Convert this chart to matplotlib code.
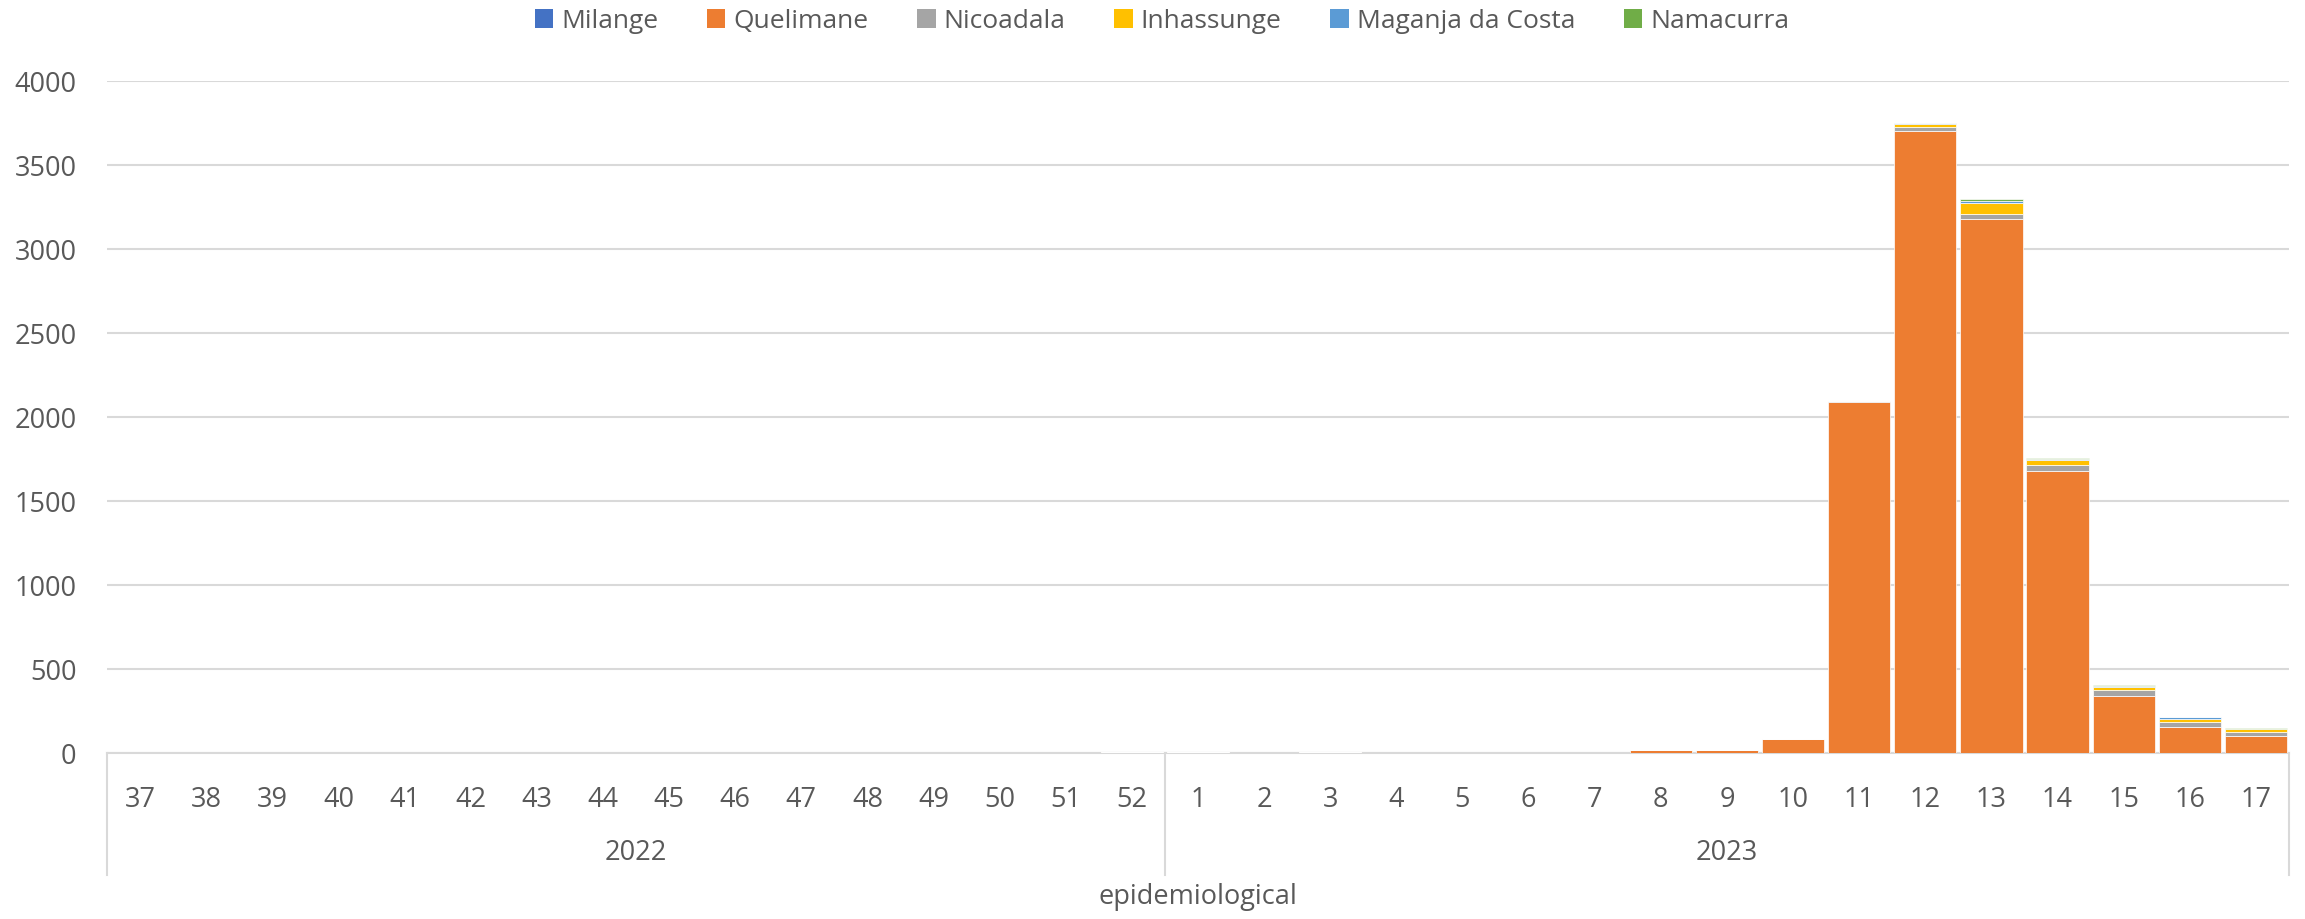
"""Weekly cases by district, stacked by epidemiological week."""

import matplotlib
matplotlib.use("Agg")
import matplotlib.pyplot as plt
import numpy as np
from matplotlib.patches import Patch
from matplotlib.transforms import blended_transform_factory

plt.rcParams["font.family"] = ["Open Sans", "DejaVu Sans"]

weeks_2022 = [str(w) for w in range(37, 53)]
weeks_2023 = [str(w) for w in range(1, 18)]
weeks = weeks_2022 + weeks_2023
years = ["2022", "2023"]

districts = ["Milange", "Quelimane", "Nicoadala", "Inhassunge", "Maganja da Costa", "Namacurra"]
colors = ["#4472C4", "#ED7D31", "#A5A5A5", "#FFC000", "#5B9BD5", "#70AD47"]

#              37..52 (2022)                                     | 1..17 (2023)
milange =     [0, 0, 0, 0, 0, 0, 0, 0, 0, 0, 0, 0, 0, 0, 0, 0] + [0, 0, 0, 0, 0, 0, 0, 0, 0, 0, 0, 0, 0, 0, 0, 0, 0]
quelimane =   [0, 0, 0, 0, 0, 0, 0, 0, 0, 0, 0, 0, 0, 0, 0, 3] + [5, 0, 3, 0, 0, 0, 0, 18, 18, 83, 2090, 3700, 3180, 1676, 340, 156, 103]
nicoadala =   [0, 0, 0, 0, 0, 0, 0, 0, 0, 0, 0, 0, 0, 0, 0, 3] + [0, 0, 0, 0, 0, 0, 0, 0, 0, 0, 5, 24, 28, 40, 34, 26, 20]
inhassunge =  [0, 0, 0, 0, 0, 0, 0, 0, 0, 0, 0, 0, 0, 0, 0, 0] + [0, 0, 0, 0, 0, 0, 0, 0, 0, 0, 0, 22, 65, 26, 20, 18, 18]
maganja =     [0, 0, 0, 0, 0, 0, 0, 0, 0, 0, 0, 0, 0, 0, 0, 0] + [0, 0, 0, 0, 0, 0, 0, 0, 0, 0, 0, 4, 14, 6, 4, 12, 2]
namacurra =   [0, 0, 0, 0, 0, 0, 0, 0, 0, 0, 0, 0, 0, 0, 0, 0] + [0, 0, 0, 0, 0, 0, 0, 0, 0, 0, 0, 0, 10, 8, 7, 0, 8]

series = [milange, quelimane, nicoadala, inhassunge, maganja, namacurra]

TEXT = "#595959"
GRID = "#D9D9D9"


def main():
    fig = plt.figure(figsize=(23.05, 9.19), dpi=100)
    ax = fig.add_axes([107 / 2305, 166 / 919, 2182 / 2305, 672 / 919])

    x = np.arange(len(weeks))
    bottom = np.zeros(len(weeks))
    for name, vals, color in zip(districts, series, colors):
        vals = np.array(vals, dtype=float)
        ax.bar(x, vals, width=0.94, bottom=bottom, color=color,
               edgecolor="white", linewidth=0.5, label=name, zorder=3)
        bottom += vals

    ax.set_xlim(-0.5, len(weeks) - 0.5)
    ax.set_ylim(0, 4000)
    ax.set_yticks(np.arange(0, 4001, 500))
    ax.yaxis.grid(True, color=GRID, linewidth=1.5, zorder=0)
    ax.set_xticks(x)
    ax.set_xticklabels(weeks)
    ax.tick_params(axis="both", length=0, labelsize=19.5, colors=TEXT)
    ax.tick_params(axis="x", pad=24)
    ax.tick_params(axis="y", pad=22)
    for side in ["top", "right", "left"]:
        ax.spines[side].set_visible(False)
    ax.spines["bottom"].set_color(GRID)
    ax.spines["bottom"].set_linewidth(1.5)

    # multi-level category axis: frame lines and year labels
    trans = blended_transform_factory(ax.transData, ax.transAxes)
    depth = -122 / 672
    n22 = len(weeks_2022)
    for xpos in [-0.5, n22 - 0.5, len(weeks) - 0.5]:
        ax.plot([xpos, xpos], [0, depth], color=GRID, linewidth=1.5,
                transform=trans, clip_on=False)
    ax.text((n22 - 1) / 2, -100 / 672, years[0], transform=trans,
            ha="center", va="center", fontsize=19.5, color=TEXT)
    ax.text(n22 + (len(weeks_2023) - 1) / 2, -100 / 672, years[1], transform=trans,
            ha="center", va="center", fontsize=19.5, color=TEXT)
    ax.text(0.5, -144 / 672, "epidemiological", transform=ax.transAxes,
            ha="center", va="center", fontsize=19.5, color=TEXT)

    handles = [Patch(facecolor=c, label=n) for n, c in zip(districts, colors)]
    fig.legend(handles=handles, loc="center", bbox_to_anchor=(1162 / 2305, 1 - 21 / 919),
               ncol=6, frameon=False, fontsize=19, labelcolor=TEXT,
               handlelength=0.7, handleheight=0.7, handletextpad=0.3, columnspacing=1.85)

    fig.savefig("out.png", dpi=100)


if __name__ == "__main__":
    main()
